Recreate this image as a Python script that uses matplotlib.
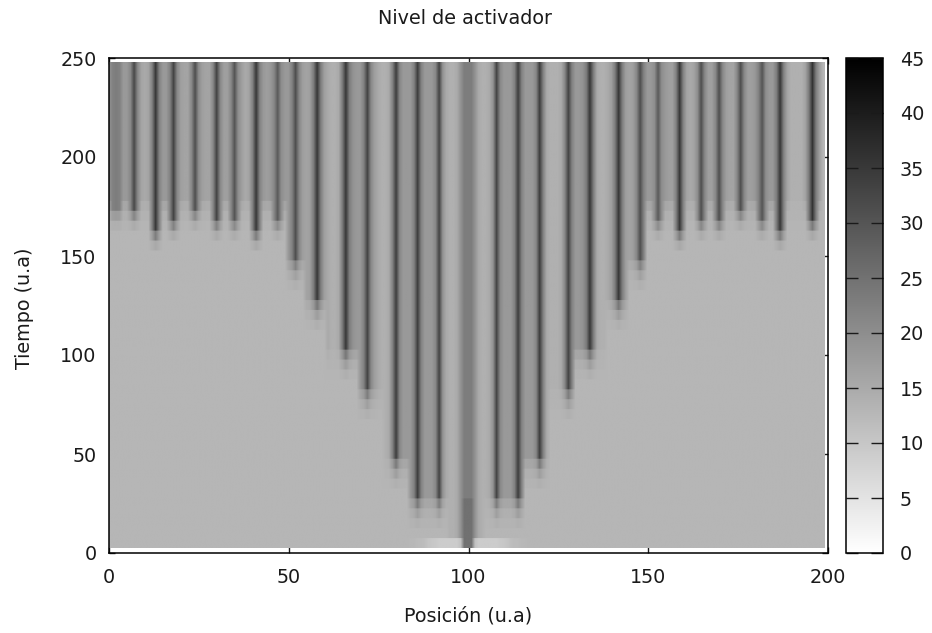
# -*- coding: utf-8 -*-
"""
Nivel de activador: grey map of the activator level over position and time
"""
import matplotlib
matplotlib.use('Agg')
import matplotlib.pyplot as plt
import numpy as np

plt.rcParams['font.family'] = 'DejaVu Sans'
plt.rcParams['font.size'] = 13.8

## Values
# level of each position once the pattern has formed
top_profile = [
    19, 22, 23, 22, 18, 18, 21, 32, 21, 16,
    15, 16, 22, 35, 22, 18, 18, 22, 33, 21,
    17, 16, 16, 21, 31, 20, 17, 16, 16, 21,
    33, 21, 17, 17, 21, 30, 20, 17, 15, 16,
    22, 35, 22, 18, 17, 18, 21, 29, 20, 18,
    18, 22, 31, 21, 17, 16, 17, 23, 35, 23,
    17, 15, 14, 14, 15, 23, 35, 23, 19, 18,
    18, 22, 33, 21, 17, 15, 14, 14, 15, 22,
    34, 21, 18, 18, 18, 22, 34, 22, 18, 18,
    18, 21, 33, 19, 15, 14, 14, 15, 19, 23,
    23, 23, 19, 15, 14, 14, 15, 19, 33, 21,
    18, 18, 18, 22, 34, 22, 18, 18, 18, 21,
    34, 22, 15, 14, 14, 14, 15, 21, 33, 22,
    18, 18, 19, 23, 35, 23, 15, 14, 14, 15,
    17, 23, 35, 23, 17, 16, 17, 21, 31, 22,
    18, 18, 20, 29, 20, 18, 17, 17, 22, 35,
    22, 16, 15, 16, 20, 31, 21, 17, 17, 21,
    31, 21, 17, 16, 16, 21, 31, 21, 17, 17,
    18, 22, 30, 20, 18, 18, 23, 35, 22, 16,
    14, 14, 14, 14, 16, 23, 36, 23, 17, 13,
]
base_level = 13

# time at which each stretch of positions switches to the pattern
front_x = [0, 50, 55, 61, 70, 77, 84, 95, 105, 116, 123, 130, 139, 145, 150, 200]
front_t = [177.5, 147.5, 127.5, 102.5, 82.5, 47.5, 27.5, 2.5, 27.5, 47.5, 82.5,
           102.5, 127.5, 147.5, 177.5]

# position of the stripes and the time at which each one starts
stripe_x = [2, 7, 13, 18, 24, 30, 35, 41, 47, 52, 58, 66, 72, 80, 86, 92, 100,
            108, 114, 120, 128, 134, 142, 148, 153, 159, 165, 170, 176, 182, 187, 196]
stripe_t = [172.5, 172.5, 162.5, 167.5, 172.5, 167.5, 167.5, 162.5, 167.5, 147.5,
            127.5, 102.5, 82.5, 47.5, 27.5, 27.5, 2.5, 27.5, 27.5, 47.5, 82.5,
            102.5, 127.5, 147.5, 167.5, 162.5, 167.5, 167.5, 172.5, 167.5, 162.5, 167.5]

# how far the rows just under a front have moved towards the pattern
tail_front = [0.5, 0.2, 0.05]
tail_stripe = [0.45, 0.1]

# lighter first row around the centre
first_row_x = [84, 85, 86, 87, 88, 89, 90, 91, 92, 93, 94, 95, 96, 97, 98,
               102, 103, 104, 105, 106, 107, 108, 109, 110, 111, 112, 113, 114, 115, 116]
first_row_level = [12.5, 12.5, 12, 12, 11.5, 10.5, 10, 9.5, 9, 9, 9, 9, 9, 9, 11,
                   11, 9, 9, 9, 9, 9, 9, 9.5, 10, 10.5, 11.5, 12, 12, 12.5, 12.5]

# centre stripe is darker in its lowest rows
centre_low_cols = [99, 100, 101]
centre_low_level = 25
centre_low_rows = 5

t_edges = np.arange(2.5, 250, 5)
n_cols = len(top_profile)

## Build the map
levels = np.full((len(t_edges) - 1, n_cols), float(base_level))
for start, stop, t0 in zip(front_x[:-1], front_x[1:], front_t):
    for col in range(start, stop):
        for row in range(levels.shape[0]):
            if t_edges[row] >= t0:
                levels[row, col] = top_profile[col]
            else:
                n = int(round((t0 - t_edges[row]) / 5)) - 1
                if n < len(tail_front):
                    levels[row, col] = base_level + tail_front[n] * (top_profile[col] - base_level)

for x0, t0 in zip(stripe_x, stripe_t):
    for col in range(x0 - 1, x0 + 2):
        for row in range(levels.shape[0]):
            if t_edges[row] >= t0:
                levels[row, col] = max(levels[row, col], top_profile[col])
            else:
                n = int(round((t0 - t_edges[row]) / 5)) - 1
                if n < len(tail_stripe):
                    levels[row, col] = max(levels[row, col],
                                           base_level + tail_stripe[n] * (top_profile[col] - base_level))

for col in centre_low_cols:
    levels[:centre_low_rows, col] = centre_low_level
for col, value in zip(first_row_x, first_row_level):
    levels[0, col] = value

## Plot
W, H = 932, 633
fig = plt.figure(figsize=(W / 100, H / 100), dpi=100)
ax = fig.add_axes([109 / W, 1 - 553 / H, 719 / W, 495 / H])
# rows repeated so the smoothing only softens the columns
im = ax.imshow(np.repeat(levels, 10, axis=0), cmap='gray_r', vmin=0, vmax=45, origin='lower',
               aspect='auto', interpolation='bilinear', zorder=1,
               extent=(-0.5, n_cols - 1, t_edges[0], t_edges[-1]))
ax.set_xlim(0, 200)
ax.set_ylim(0, 250)
ax.set_xticks([0, 50, 100, 150, 200])
ax.set_yticks([0, 50, 100, 150, 200, 250])
ax.set_axisbelow(True)
ax.tick_params(direction='in', top=True, right=True, length=4, width=1,
               colors='#1a1a1a')
ax.tick_params(axis='x', pad=11)
ax.tick_params(axis='y', pad=9)
for spine in ax.spines.values():
    spine.set_linewidth(1.1)

cax = fig.add_axes([846 / W, 1 - 553 / H, 37 / W, 495 / H])
cbar = fig.colorbar(im, cax=cax, ticks=np.arange(0, 50, 5))
cbar.ax.tick_params(direction='in', left=True, right=True, length=8.4, width=1, pad=12,
                    colors='#1a1a1a')
cbar.outline.set_linewidth(1.1)

fig.text(465 / W, 1 - 18 / H, 'Nivel de activador', ha='center', va='center',
         color='#1a1a1a')
fig.text(468 / W, 1 - 616 / H, 'Posición (u.a)', ha='center', va='center',
         color='#1a1a1a')
fig.text(24 / W, 1 - 308 / H, 'Tiempo (u.a)', ha='center', va='center',
         rotation=90, color='#1a1a1a')

fig.savefig('out.png', dpi=100)
